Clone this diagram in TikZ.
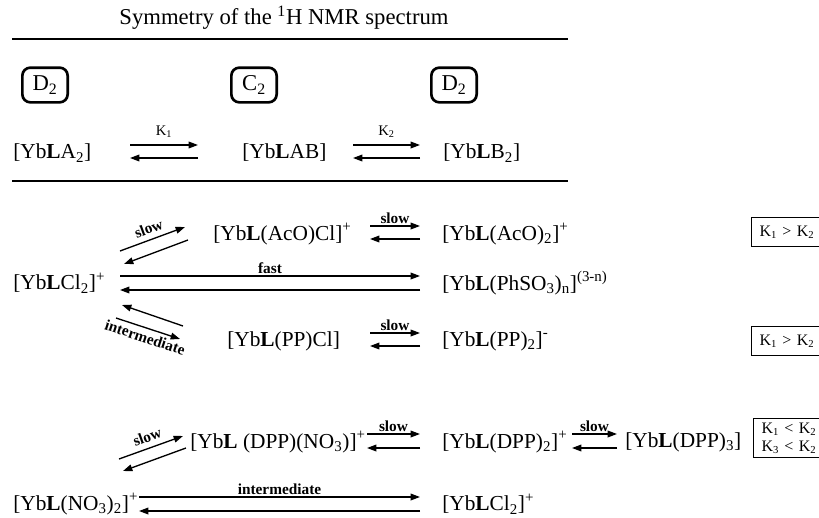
\documentclass[tikz,border=0pt]{standalone}
\usepackage{fontspec}
\setmainfont{Liberation Serif}
\usetikzlibrary{arrows.meta}
\tikzset{
  chem/.style={anchor=west, inner sep=0pt, font=\fontsize{16}{19}\selectfont},
  rate/.style={font=\bfseries\fontsize{11.5}{13}\selectfont, inner sep=1.5pt},
  klabel/.style={font=\fontsize{11}{13}\selectfont, inner sep=1pt},
  eqarrow/.style={line width=1pt, -{Triangle[length=7pt,width=5pt]}},
  rulebar/.style={line width=1.5pt},
  symbox/.style={draw, line width=2pt, rounded corners=6pt, minimum width=34pt,
    minimum height=26pt, inner sep=0pt, font=\fontsize{17}{20}\selectfont},
  kbox/.style={draw, line width=0.8pt, anchor=north west, inner xsep=6pt, inner ysep=3pt,
    minimum height=22pt, text width=52pt, align=left, font=\fontsize{12}{14}\selectfont}
}
\newcommand\Lb{\textbf{L}}
\begin{document}
\begin{tikzpicture}[x=0.75pt,y=-0.75pt]
\useasboundingbox (0,0) rectangle (819,518);
\clip (0,0) rectangle (819,518);

% ---------- header: symmetry of the spectra ----------
\node[chem, anchor=center, font=\fontsize{17}{20}\selectfont] (title) at (284,18)
  {Symmetry of the \textsuperscript{1}H NMR spectrum};
\coordinate (top-l) at (12,39);  \coordinate (top-r) at (568,39);
\draw[rulebar] (top-l) -- (top-r);

\node[symbox] (sym1) at (45,85)  {D\textsubscript{2}};
\node[symbox] (sym2) at (254,85) {C\textsubscript{2}};
\node[symbox] (sym3) at (454,85) {D\textsubscript{2}};

\node[chem] (la2) at (13,153)  {[Yb\Lb A\textsubscript{2}]};
\node[chem] (lab) at (242,153) {[Yb\Lb AB]};
\node[chem] (lb2) at (443,153) {[Yb\Lb B\textsubscript{2}]};

\coordinate (k1a) at (130,145); \coordinate (k1b) at (198,145);
\coordinate (k1c) at (198,158); \coordinate (k1d) at (130,158);
\draw[eqarrow] (k1a) -- node[klabel, above=4pt] (k1lab) {K\textsubscript{1}} (k1b);
\draw[eqarrow] (k1c) -- (k1d);

\coordinate (k2a) at (353,145); \coordinate (k2b) at (420,145);
\coordinate (k2c) at (420,158); \coordinate (k2d) at (353,158);
\draw[eqarrow] (k2a) -- node[klabel, above=4pt] (k2lab) {K\textsubscript{2}} (k2b);
\draw[eqarrow] (k2c) -- (k2d);

\coordinate (bot-l) at (12,181); \coordinate (bot-r) at (568,181);
\draw[rulebar] (bot-l) -- (bot-r);

% ---------- chloride complex ----------
\node[chem] (cl2) at (13,283) {[Yb\Lb Cl\textsubscript{2}]\textsuperscript{+}};

\node[chem] (acocl) at (213,234) {[Yb\Lb(AcO)Cl]\textsuperscript{+}};
\node[chem] (aco2)  at (442,234) {[Yb\Lb(AcO)\textsubscript{2}]\textsuperscript{+}};
\node[chem] (phso3) at (442,283) {[Yb\Lb(PhSO\textsubscript{3})\textsubscript{n}]\textsuperscript{(3-n)}};
\node[chem] (ppcl)  at (227,341) {[Yb\Lb(PP)Cl]};
\node[chem] (pp2)   at (442,341) {[Yb\Lb(PP)\textsubscript{2}]\textsuperscript{-}};

% acetate branch
\coordinate (ac1) at (120,251); \coordinate (ac2) at (185,227);
\coordinate (ac3) at (188,240); \coordinate (ac4) at (124,264);
\draw[eqarrow] (ac1) -- node[rate, above=2.5pt, sloped] (acslow) {slow} (ac2);
\draw[eqarrow] (ac3) -- (ac4);

\coordinate (ab1) at (370,226); \coordinate (ab2) at (420,226);
\coordinate (ab3) at (420,239); \coordinate (ab4) at (370,239);
\draw[eqarrow] (ab1) -- node[rate, above] (abslow) {slow} (ab2);
\draw[eqarrow] (ab3) -- (ab4);

% sulfonate branch
\coordinate (fs1) at (120,276); \coordinate (fs2) at (420,276);
\coordinate (fs3) at (420,290); \coordinate (fs4) at (120,290);
\draw[eqarrow] (fs1) -- node[rate, above] (fast) {fast} (fs2);
\draw[eqarrow] (fs3) -- (fs4);

% phosphate branch
\coordinate (pi1) at (183,326); \coordinate (pi2) at (122,305);
\coordinate (pi3) at (116,318); \coordinate (pi4) at (180,339);
\draw[eqarrow] (pi1) -- (pi2);
\draw[eqarrow] (pi3) -- node[rate, below=1pt, sloped] (pinter) {intermediate} (pi4);

\coordinate (pp1) at (370,333); \coordinate (pp2a) at (420,333);
\coordinate (pp3) at (420,346); \coordinate (pp4) at (370,346);
\draw[eqarrow] (pp1) -- node[rate, above] (ppslow) {slow} (pp2a);
\draw[eqarrow] (pp3) -- (pp4);

\node[kbox] (kb1) at (751,217) {K\textsubscript{1} > K\textsubscript{2}};
\node[kbox] (kb2) at (751,326) {K\textsubscript{1} > K\textsubscript{2}};

% ---------- nitrate complex ----------
\node[chem] (no32)   at (13,504)  {[Yb\Lb(NO\textsubscript{3})\textsubscript{2}]\textsuperscript{+}};
\node[chem] (dppno3) at (190,442) {[Yb\Lb{} (DPP)(NO\textsubscript{3})]\textsuperscript{+}};
\node[chem] (dpp2)   at (442,442) {[Yb\Lb(DPP)\textsubscript{2}]\textsuperscript{+}};
\node[chem] (dpp3)   at (625,442) {[Yb\Lb(DPP)\textsubscript{3}]};
\node[chem] (cl2b)   at (442,504) {[Yb\Lb Cl\textsubscript{2}]\textsuperscript{+}};

\coordinate (dn1) at (119,459); \coordinate (dn2) at (183,436);
\coordinate (dn3) at (186,448); \coordinate (dn4) at (123,471);
\draw[eqarrow] (dn1) -- node[rate, above=2.5pt, sloped] (dnslow) {slow} (dn2);
\draw[eqarrow] (dn3) -- (dn4);

\coordinate (dd1) at (367,434); \coordinate (dd2) at (420,434);
\coordinate (dd3) at (420,448); \coordinate (dd4) at (367,448);
\draw[eqarrow] (dd1) -- node[rate, above] (ddslow) {slow} (dd2);
\draw[eqarrow] (dd3) -- (dd4);

\coordinate (de1) at (572,434); \coordinate (de2) at (617,434);
\coordinate (de3) at (617,448); \coordinate (de4) at (572,448);
\draw[eqarrow] (de1) -- node[rate, above] (deslow) {slow} (de2);
\draw[eqarrow] (de3) -- (de4);

\coordinate (ni1) at (139,497); \coordinate (ni2) at (420,497);
\coordinate (ni3) at (420,511); \coordinate (ni4) at (139,511);
\draw[eqarrow] (ni1) -- node[rate, above] (ninter) {intermediate} (ni2);
\draw[eqarrow] (ni3) -- (ni4);

\node[kbox, minimum height=0pt, font=\fontsize{12}{13.5}\selectfont] (kb3) at (753,418)
  {K\textsubscript{1} < K\textsubscript{2}\\K\textsubscript{3} < K\textsubscript{2}};
\end{tikzpicture}
\end{document}
